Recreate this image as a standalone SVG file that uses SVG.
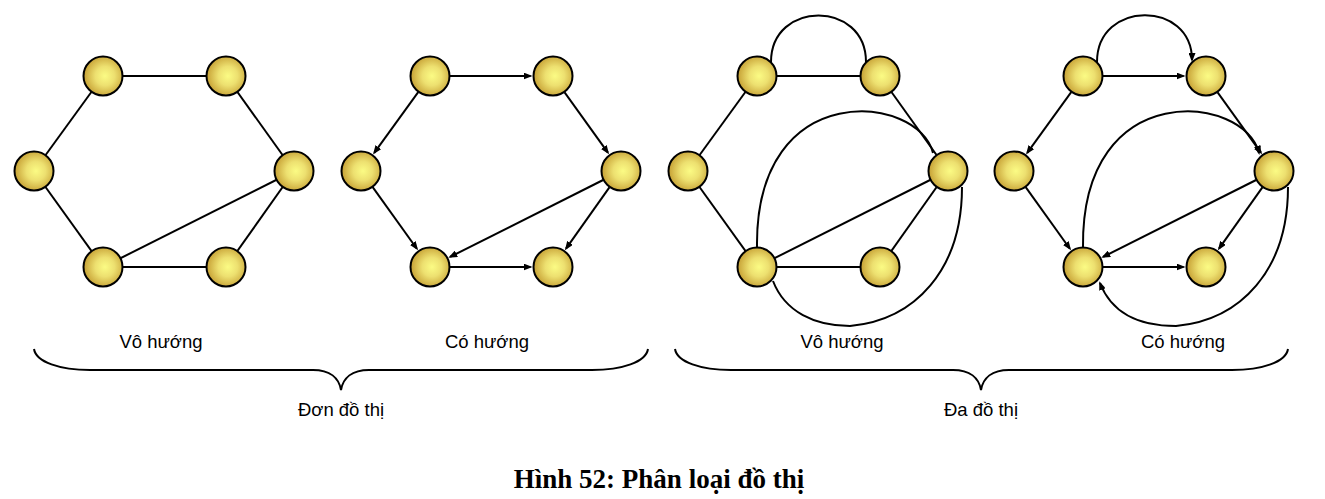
<svg xmlns="http://www.w3.org/2000/svg" width="1325" height="499" viewBox="0 0 1325 499">
<defs>
<radialGradient id="gold" cx="0.55" cy="0.5" r="0.55">
<stop offset="0" stop-color="#FBFB84"/>
<stop offset="0.45" stop-color="#EDE070"/>
<stop offset="1" stop-color="#C6A034"/>
</radialGradient>
<marker id="arr" viewBox="0 0 9 7" refX="7" refY="3.5" markerWidth="9" markerHeight="7" markerUnits="userSpaceOnUse" orient="auto">
<path d="M0,0 L9,3.5 L0,7 z" fill="#000"/>
</marker>
<style>
.node{fill:url(#gold);stroke:#000;stroke-width:2}
.e{fill:none;stroke:#000;stroke-width:2}
.d{fill:none;stroke:#000;stroke-width:2;marker-end:url(#arr)}
.lbl{font-family:"Liberation Sans",Arial,sans-serif;font-size:18.5px;fill:#000;text-anchor:middle}
.title{font-family:"Liberation Serif","Times New Roman",serif;font-size:27px;font-weight:bold;fill:#000;text-anchor:middle}
</style>
</defs>
<rect width="1325" height="499" fill="#fff"/>
<g id="connectors">
<!-- graph 1 -->
<path class="e" d="M103,76 L226,76"/>
<path class="e" d="M103,76 L34,171"/>
<path class="e" d="M226,76 L294,171"/>
<path class="e" d="M34,171 L103,267"/>
<path class="e" d="M294,171 L103,267"/>
<path class="e" d="M294,171 L226,267"/>
<path class="e" d="M103,267 L226,267"/>
<!-- graph 2 -->
<path class="d" d="M450,76 L530.5,76"/>
<path class="d" d="M418.2,92.2 L374.22,152.79"/>
<path class="d" d="M564.6,92.3 L607.9,152.7"/>
<path class="d" d="M372.7,187.2 L416.87,248.73"/>
<path class="d" d="M603.1,180 L450.1,256.9"/>
<path class="d" d="M609.4,187.3 L566.01,248.63"/>
<path class="d" d="M450,267 L530.5,267"/>
<!-- graph 3 -->
<path class="e" d="M757,76 L880,76"/>
<path class="e" d="M757,76 L688,171"/>
<path class="e" d="M880,76 L948,171"/>
<path class="e" d="M688,171 L757,267"/>
<path class="e" d="M948,171 L757,267"/>
<path class="e" d="M948,171 L880,267"/>
<path class="e" d="M757,267 L880,267"/>
<path class="e" d="M771,62 C771,0 866,0 866,62"/>
<path class="e" d="M757,247 C755,75 920,95 933,153"/>
<path class="e" d="M773,281 C785,312 815,326 850,326 C915,320 962,270 962,187"/>
<!-- graph 4 -->
<path class="d" d="M1103,76 L1183.5,76"/>
<path class="d" d="M1071.2,92.2 L1027.22,152.79"/>
<path class="d" d="M1217.6,92.3 L1260.9,152.7"/>
<path class="d" d="M1025.7,187.2 L1069.87,248.73"/>
<path class="d" d="M1256.1,180 L1103.1,256.9"/>
<path class="d" d="M1262.4,187.3 L1219.01,248.63"/>
<path class="d" d="M1103,267 L1183.5,267"/>
<path class="d" d="M1097,62 C1097,0 1192,0 1192,60"/>
<path class="d" d="M1083,247 C1081,75 1246,95 1259,153"/>
<path class="d" d="M1288,187 C1288,270 1241,320 1176,326 C1141,326 1112,314 1100,283"/>
</g>
<g id="g1-n1"><circle class="node" cx="103" cy="76" r="19.5"/></g>
<g id="g1-n2"><circle class="node" cx="226" cy="76" r="19.5"/></g>
<g id="g1-n3"><circle class="node" cx="34" cy="171" r="19.5"/></g>
<g id="g1-n4"><circle class="node" cx="294" cy="171" r="19.5"/></g>
<g id="g1-n5"><circle class="node" cx="103" cy="267" r="19.5"/></g>
<g id="g1-n6"><circle class="node" cx="226" cy="267" r="19.5"/></g>
<g id="g2-n1"><circle class="node" cx="430" cy="76" r="19.5"/></g>
<g id="g2-n2"><circle class="node" cx="553" cy="76" r="19.5"/></g>
<g id="g2-n3"><circle class="node" cx="361" cy="171" r="19.5"/></g>
<g id="g2-n4"><circle class="node" cx="621" cy="171" r="19.5"/></g>
<g id="g2-n5"><circle class="node" cx="430" cy="267" r="19.5"/></g>
<g id="g2-n6"><circle class="node" cx="553" cy="267" r="19.5"/></g>
<g id="g3-n1"><circle class="node" cx="757" cy="76" r="19.5"/></g>
<g id="g3-n2"><circle class="node" cx="880" cy="76" r="19.5"/></g>
<g id="g3-n3"><circle class="node" cx="688" cy="171" r="19.5"/></g>
<g id="g3-n4"><circle class="node" cx="948" cy="171" r="19.5"/></g>
<g id="g3-n5"><circle class="node" cx="757" cy="267" r="19.5"/></g>
<g id="g3-n6"><circle class="node" cx="880" cy="267" r="19.5"/></g>
<g id="g4-n1"><circle class="node" cx="1083" cy="76" r="19.5"/></g>
<g id="g4-n2"><circle class="node" cx="1206" cy="76" r="19.5"/></g>
<g id="g4-n3"><circle class="node" cx="1014" cy="171" r="19.5"/></g>
<g id="g4-n4"><circle class="node" cx="1274" cy="171" r="19.5"/></g>
<g id="g4-n5"><circle class="node" cx="1083" cy="267" r="19.5"/></g>
<g id="g4-n6"><circle class="node" cx="1206" cy="267" r="19.5"/></g>
<g id="labels">
<text class="lbl" x="161" y="348">Vô hướng</text>
<text class="lbl" x="487" y="348">Có hướng</text>
<text class="lbl" x="842" y="348">Vô hướng</text>
<text class="lbl" x="1183" y="348">Có hướng</text>
<text class="lbl" x="341" y="416">Đơn đồ thị</text>
<text class="lbl" x="981" y="416">Đa đồ thị</text>
</g>
<g id="braces">
<path class="e" d="M34,349 C36,362 60,370 90,370 L313,370 C330,370 339,378 341,390 C343,378 352,370 369,370 L592,370 C622,370 646,362 648,349"/>
<path class="e" d="M675,349 C677,362 701,370 731,370 L953,370 C970,370 979,378 981,390 C983,378 992,370 1009,370 L1232,370 C1262,370 1286,362 1288,349"/>
</g>
<text class="title" x="659" y="488">Hình 52: Phân loại đồ thị</text>
</svg>
